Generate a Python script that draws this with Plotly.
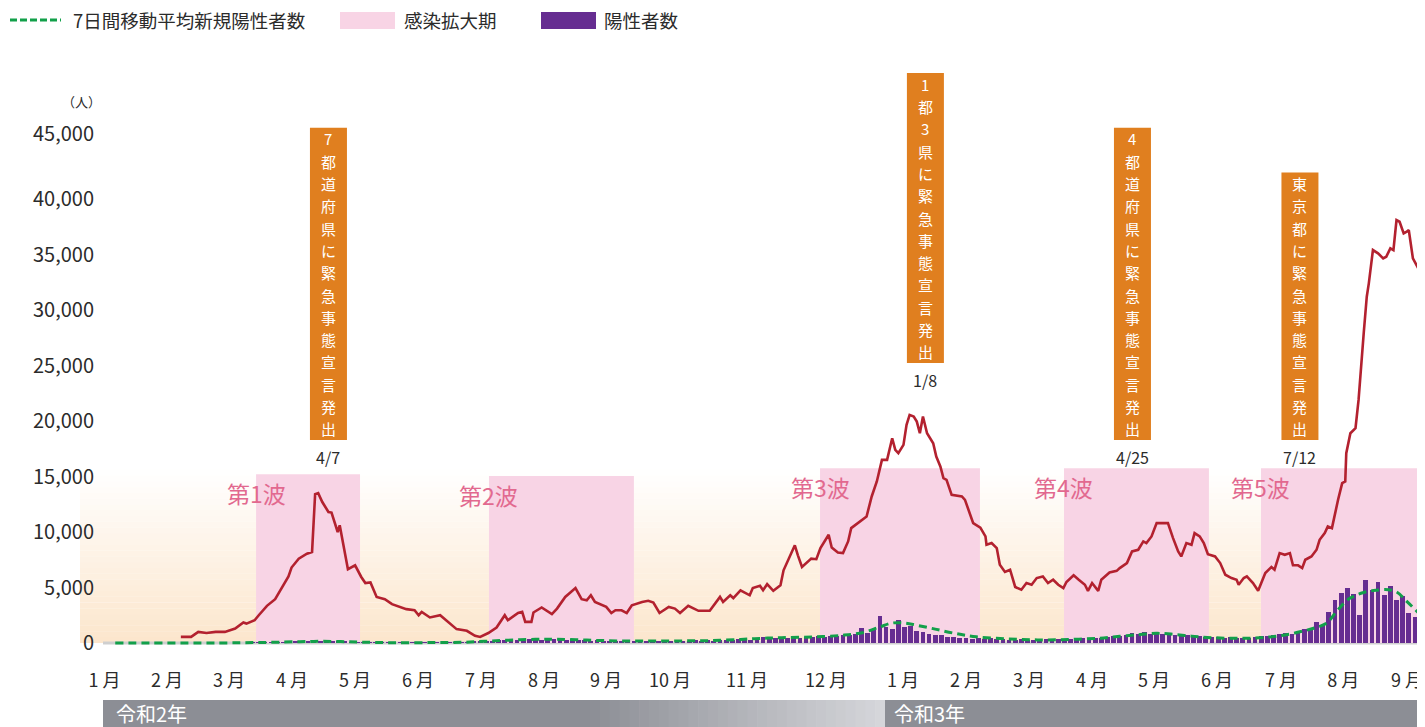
import plotly.graph_objects as go

# ---------------- data ----------------
# x axis: "chart day" position along the time axis (0 = start of Jan 2020 label)
MONTH_LABELS = ["1 月", "2 月", "3 月", "4 月", "5 月", "6 月", "7 月", "8 月", "9 月", "10 月",
                "11 月", "12 月", "1 月", "2 月", "3 月", "4 月", "5 月", "6 月", "7 月", "8 月", "9 月"]
MONTH_POS = [-0.2, 30.2, 60.5, 91.2, 121.9, 152.7, 183.4, 214.1, 244.4, 275.6,
             313.2, 351.7, 389.3, 420.0, 450.7, 481.5, 511.7, 542.4, 573.7, 604.0, 635.1]

Y_TICK_VALS = [0, 5000, 10000, 15000, 20000, 25000, 30000, 35000, 40000, 45850]
Y_TICK_TEXT = ["0", "5,000", "10,000", "15,000", "20,000", "25,000", "30,000", "35,000", "40,000", "45,000"]

# red line (unlabelled series)
RED_X = [37, 42, 45.5, 49.5, 54, 58.5, 63.5, 67.5, 69, 73, 75, 77, 79, 83, 86.5, 89.5, 91, 94.5, 98.5, 101,
         102.5, 104, 106, 109, 110.5, 113.5, 114.5, 117, 118.5, 122, 125, 127, 129.5, 132.5, 136.5, 140, 144,
         147, 151, 153, 154.5, 158.5, 163.5, 166.5, 171.5, 176.5, 180.5, 183, 187, 191, 195, 196.5, 201.5,
         203.5, 205, 208, 209, 213, 218, 220.5, 224.5, 227, 229.5, 232.5, 235, 237, 239, 244.5, 247, 249, 252,
         254.5, 257, 262, 265, 267.5, 270.5, 275, 278, 280.5, 284.5, 289.5, 295, 300, 301.5, 305, 306.5, 310,
         314.5, 316, 319.5, 321, 323, 326, 329.5, 331, 333.5, 336, 336.5, 338, 340, 344.5, 347, 349, 353,
         354.5, 357.5, 360, 362.5, 364, 369, 371.5, 374, 376.5, 379, 381.5, 384, 385.5, 387, 389.5, 391, 392.5,
         394.5, 396, 397.5, 399, 401, 404, 405.5, 407.5, 409, 410.5, 413, 418, 419.5, 422, 423.5, 427, 429.5,
         430, 432.5, 435, 436.5, 439, 441.5, 444, 447, 449.5, 452, 454.5, 457.5, 460, 462.5, 465, 467.5, 469,
         472.5, 475, 478, 479.5, 481.5, 484.5, 486, 490, 493.5, 495, 498.5, 501, 504, 506.5, 508, 510.5, 513,
         515.5, 518.5, 521, 523.5, 525, 527.5, 530, 531.5, 534, 536, 538, 541.5, 544, 546.5, 549.5, 552, 553,
         555.5, 557, 560, 562.5, 566, 569, 570.5, 573, 575.5, 578, 579.5, 582, 584, 585.5, 588.5, 591, 592.5,
         595, 596.5, 598.5, 600, 601.5, 603.5, 605, 605.5, 607.5, 610, 611.5, 614, 615.5, 616.5, 618.5, 621,
         623.5, 625, 627, 628.5, 630, 631.5, 633.5, 635, 636, 638, 640, 641.5, 644]
RED_Y = [550, 550, 1000, 900, 1000, 1000, 1300, 1850, 1750, 2050, 2500, 2900, 3350, 3950, 5000, 6000, 6800, 7600,
         8050, 8200, 13400, 13500, 12700, 11800, 11750, 10000, 10600, 7900, 6650, 7000, 5950, 5400, 5450, 4150,
         3950, 3500, 3250, 3050, 2950, 2500, 2800, 2300, 2500, 2050, 1250, 1100, 650, 550, 900, 1400, 2500, 2050,
         2700, 2800, 1900, 1900, 2750, 3200, 2600, 3100, 4150, 4550, 4950, 3950, 3850, 4300, 3700, 3250, 2700,
         2950, 2950, 2700, 3400, 3700, 3800, 3650, 2700, 3250, 3100, 2700, 3350, 2900, 2900, 4150, 3700, 4300,
         4050, 4750, 4300, 4950, 5150, 4750, 5300, 4700, 5200, 6550, 7600, 8550, 8800, 7900, 6850, 7600, 7550,
         8550, 9750, 8600, 8150, 8100, 9150, 10350, 11100, 11400, 13200, 14550, 16500, 16500, 18450, 17400,
         17100, 17850, 19650, 20550, 20400, 19950, 18900, 20400, 18900, 18000, 16800, 15900, 14850, 14700,
         13350, 13200, 12900, 11700, 10800, 10400, 9600, 8850, 9000, 8550, 7050, 6400, 6600, 5050, 4800, 5400,
         5250, 5850, 6000, 5400, 5700, 5250, 4950, 5500, 6100, 5700, 5250, 4700, 5400, 4700, 5700, 6350, 6500,
         6750, 7200, 8250, 8400, 9150, 9000, 9600, 10800, 10800, 10800, 9450, 8250, 7800, 9000, 8850, 9900,
         9600, 9000, 8000, 7800, 7200, 6150, 5850, 5700, 5250, 5850, 6000, 5400, 4700, 6300, 6850, 6600, 8100,
         7950, 8100, 7000, 7000, 6750, 7500, 7800, 8400, 9300, 9900, 10500, 10350, 11700, 12900, 14400, 14550,
         17100, 18900, 19350, 21900, 27900, 31200, 32400, 35400, 35100, 34650, 34800, 35550, 35400, 38100,
         37950, 36900, 37050, 37200, 34650, 33900, 33450, 31500]

# 陽性者数 (bars, one every 3 chart days)
BAR_START = 72
BAR_STEP = 3
BAR_VALUES = [20, 30, 40, 50, 60, 80, 90, 110, 140, 160, 180, 170, 190, 160, 150, 120, 90, 70, 50, 40,
              30, 20, 20, 15, 15, 20, 20, 25, 30, 40, 45, 50, 55, 60, 70, 90, 110,
              130, 180, 220, 240, 290, 250, 300, 370, 330, 400, 300, 420, 350, 380, 250, 330, 280, 230, 210, 260,
              180, 200, 170, 210, 160, 180, 230, 170, 200, 150, 230, 190, 220, 170, 210, 240, 180, 250, 200, 270,
              300, 250, 330, 380, 300, 420, 500, 540, 480, 430,
              480, 520, 460, 580, 500, 620, 560, 640, 600, 750,
              700, 850, 1350, 900, 1150, 2450, 1450, 1300, 2050, 1400,
              1500, 1100, 950, 800, 750, 700, 550, 500, 450, 480,
              400, 450, 380, 420, 330, 380, 300, 280, 320, 260,
              300, 280, 320, 300, 340, 300, 360, 330, 420, 400,
              480, 450, 560, 600, 650, 720, 900, 780, 1000, 850,
              1000, 800, 900, 750, 850, 700, 620, 650, 550, 500,
              560, 450, 500, 420, 480, 450, 520, 600, 650, 700,
              820, 900, 850, 1100, 1300, 1250, 1900, 1600, 2800, 3900,
              4500, 4950, 4400, 2500, 5700, 4800, 5500, 4300, 5100, 3900,
              4200, 2700, 2300, 1700]
BAR_X = [BAR_START + BAR_STEP * i for i in range(len(BAR_VALUES))]

# 7日間移動平均新規陽性者数
MA_X = [5, 60, 80, 95, 105, 115, 125, 140, 160, 175, 185, 195, 210, 220, 235, 250, 265, 280, 295, 310,
        320, 330, 345, 360, 370, 378, 384, 390, 396, 405, 415, 425, 440, 455, 470, 485, 495, 505, 513, 520,
        530, 540, 555, 565, 575, 585, 590, 596, 601, 607, 614, 620, 626, 630, 635, 640, 644]
MA_Y = [0, 10, 60, 120, 150, 130, 80, 30, 40, 70, 150, 240, 330, 340, 260, 190, 180, 190, 210, 320,
        420, 480, 550, 700, 950, 1450, 1800, 1800, 1600, 1250, 850, 560, 380, 280, 320, 430, 600, 760, 870, 800,
        620, 480, 420, 500, 700, 1100, 1350, 1800, 2900, 4000, 4550, 4750, 4800, 4600, 3750, 2850, 2050]

# 感染拡大期
WAVE_LABELS = ["第1波", "第2波", "第3波", "第4波", "第5波"]
WAVE_START = [73.7, 187.3, 348.8, 467.8, 563.9]
WAVE_END = [124.4, 258.0, 426.8, 538.5, 650.0]
WAVE_TOP = [15200, 15050, 15750, 15750, 15750]

# 緊急事態宣言
EVENT_X = [109.0, 400.2, 501.2, 582.9]
EVENT_TEXT = ["7都道府県に緊急事態宣言発出", "1都3県に緊急事態宣言発出",
              "4都道府県に緊急事態宣言発出", "東京都に緊急事態宣言発出"]
EVENT_DATE = ["4/7", "1/8", "4/25", "7/12"]
EVENT_BOTTOM = [18290, 25230, 18290, 18290]

ERA_LABELS = ["令和2年", "令和3年"]

# ---------------- styles / geometry ----------------
OFF = 8                       # browser body margin
W, H = 1425 - OFF, 727 - OFF
ML, MR, MT, MB = 95, 0, 37, 80
PW, PH = W - ML - MR, H - MT - MB
FONT = "Noto Sans CJK JP"
RED = "#B3212F"
GREEN = "#12A04A"
PURPLE = "#662D91"
PINK = "#F8D4E5"
ORANGE = "#E07F1F"
TEXT = "#2B2B2B"
WAVE_TEXT = "#E2698F"
GREY_DARK = (140, 142, 149)
GREY_LIGHT = (214, 215, 219)
X_RANGE = [(103 - 105) / 2.05, (1425 - 105) / 2.05]
Y_RANGE = [-360, 53874]
VPP = (Y_RANGE[1] - Y_RANGE[0]) / PH      # value per pixel
XPP = (X_RANGE[1] - X_RANGE[0]) / PW      # chart-day per pixel
CHAR_PITCH = 22.3
BOX_W = 37


def px_x(p):  # page pixel -> paper x
    return (p - OFF - ML) / PW


def px_y(p):  # page pixel -> paper y
    return (H - MB - (p - OFF)) / PH


fig = go.Figure()

fig.add_trace(go.Bar(x=BAR_X, y=BAR_VALUES, width=2.3, marker=dict(color=PURPLE, line=dict(width=0)),
                     name="陽性者数", showlegend=False, hoverinfo="skip"))
fig.add_trace(go.Scatter(x=RED_X, y=RED_Y, mode="lines", line=dict(color=RED, width=2.6),
                         showlegend=False, hoverinfo="skip"))
fig.add_trace(go.Scatter(x=MA_X, y=MA_Y, mode="lines",
                         line=dict(color=GREEN, width=3, dash="8px,5px", shape="spline"),
                         name="7日間移動平均新規陽性者数", showlegend=False, hoverinfo="skip"))

shapes = []
# background gradient (orange to white)
BG_TOP = 15600
NB = 30
for i in range(NB):
    t = (i + 0.5) / NB
    r = round(252 + 3 * t)
    g = round(230 + 25 * t)
    b = round(204 + 51 * t)
    shapes.append(dict(type="rect", xref="paper", yref="y", x0=px_x(80), x1=1,
                       y0=BG_TOP * i / NB, y1=BG_TOP * (i + 1) / NB + 20,
                       fillcolor=f"rgb({r},{g},{b})", line=dict(width=0), layer="below"))
# infection expansion periods
for x0, x1, top in zip(WAVE_START, WAVE_END, WAVE_TOP):
    shapes.append(dict(type="rect", xref="x", yref="y", x0=x0, x1=x1, y0=0, y1=top,
                       fillcolor=PINK, line=dict(width=0), layer="below"))
# baseline
shapes.append(dict(type="line", xref="paper", yref="y", x0=0, x1=1, y0=0, y1=0,
                   line=dict(color="#CFCFCF", width=3), layer="below"))

# era bar
ey0, ey1 = px_y(727), px_y(700)
shapes.append(dict(type="rect", xref="paper", yref="paper", x0=px_x(103), x1=px_x(591), y0=ey0, y1=ey1,
                   fillcolor="rgb(%d,%d,%d)" % GREY_DARK, line=dict(width=0)))
NS = 30
for i in range(NS):
    a = 590 + (885 - 590) * i / NS
    bb = 590 + (885 - 590) * (i + 1) / NS
    t = (i + 0.5) / NS
    c = tuple(round(GREY_DARK[k] + (GREY_LIGHT[k] - GREY_DARK[k]) * t) for k in range(3))
    shapes.append(dict(type="rect", xref="paper", yref="paper", x0=px_x(a), x1=px_x(bb) + 0.0005, y0=ey0, y1=ey1,
                       fillcolor="rgb(%d,%d,%d)" % c, line=dict(width=0)))
shapes.append(dict(type="rect", xref="paper", yref="paper", x0=px_x(885), x1=1, y0=ey0, y1=ey1,
                   fillcolor="rgb(%d,%d,%d)" % GREY_DARK, line=dict(width=0)))

# legend symbols
ly = px_y(20)
shapes.append(dict(type="line", xref="paper", yref="paper", x0=px_x(10), x1=px_x(61), y0=ly, y1=ly,
                   line=dict(color=GREEN, width=3, dash="7px,3px")))
shapes.append(dict(type="rect", xref="paper", yref="paper", x0=px_x(340), x1=px_x(395), y0=px_y(29), y1=px_y(12),
                   fillcolor=PINK, line=dict(width=0)))
shapes.append(dict(type="rect", xref="paper", yref="paper", x0=px_x(541), x1=px_x(596), y0=px_y(29), y1=px_y(12),
                   fillcolor=PURPLE, line=dict(width=0)))

annotations = []
# legend texts
for txt, p in [("7日間移動平均新規陽性者数", 71), ("感染拡大期", 402), ("陽性者数", 602)]:
    annotations.append(dict(text=txt, xref="paper", yref="paper", x=px_x(p), y=ly, xanchor="left",
                            yanchor="middle", showarrow=False, font=dict(family=FONT, size=18.5, color=TEXT)))
# unit
annotations.append(dict(text="（人）", xref="paper", yref="paper", x=px_x(81), y=px_y(101), xanchor="center",
                        yanchor="middle", showarrow=False, font=dict(family=FONT, size=13, color=TEXT)))
# wave labels
for lab, x0, top in zip(WAVE_LABELS, WAVE_START, WAVE_TOP):
    annotations.append(dict(text=lab, x=x0, y=top - 1700, xref="x", yref="y", xanchor="center", yanchor="middle",
                            showarrow=False, font=dict(family=FONT, size=23, color=WAVE_TEXT)))
# events: orange boxes with upright stacked characters
for ex, etxt, edate, eb in zip(EVENT_X, EVENT_TEXT, EVENT_DATE, EVENT_BOTTOM):
    chars = list(etxt)
    n = len(chars)
    top = eb + n * CHAR_PITCH * VPP
    shapes.append(dict(type="rect", xref="x", yref="y", x0=ex - BOX_W / 2 * XPP, x1=ex + BOX_W / 2 * XPP,
                       y0=eb, y1=top, fillcolor=ORANGE, line=dict(width=0), layer="above"))
    for k, ch in enumerate(chars):
        annotations.append(dict(text=ch, x=ex, y=top - (k + 0.5) * CHAR_PITCH * VPP, xref="x", yref="y",
                                xanchor="center", yanchor="middle", showarrow=False,
                                font=dict(family=FONT, size=15, color="white")))
    annotations.append(dict(text=edate, x=ex, y=eb, xref="x", yref="y", xanchor="center", yanchor="top",
                            yshift=-3, showarrow=False, font=dict(family=FONT, size=16, color=TEXT)))
# era labels
for lab, p in zip(ERA_LABELS, [114, 892]):
    annotations.append(dict(text=lab, xref="paper", yref="paper", x=px_x(p), y=px_y(713), xanchor="left",
                            yanchor="middle", showarrow=False, font=dict(family=FONT, size=20, color="white")))

fig.update_layout(
    width=W, height=H,
    margin=dict(l=ML, r=MR, t=MT, b=MB, pad=0),
    paper_bgcolor="white", plot_bgcolor="rgba(0,0,0,0)",
    bargap=0, barmode="overlay",
    shapes=shapes, annotations=annotations,
    showlegend=False,
    font=dict(family=FONT, color=TEXT),
    xaxis=dict(range=X_RANGE, tickmode="array", tickvals=MONTH_POS, ticktext=MONTH_LABELS,
               showgrid=False, zeroline=False, showline=False, ticks="outside", ticklen=17,
               tickcolor="rgba(0,0,0,0)", tickfont=dict(family=FONT, size=18, color=TEXT)),
    yaxis=dict(range=Y_RANGE, tickmode="array", tickvals=Y_TICK_VALS, ticktext=Y_TICK_TEXT,
               showgrid=False, zeroline=False, showline=False, ticks="outside", ticklen=4,
               tickcolor="rgba(0,0,0,0)", tickfont=dict(family=FONT, size=20, color=TEXT)),
)

fig.write_html("out.html")
